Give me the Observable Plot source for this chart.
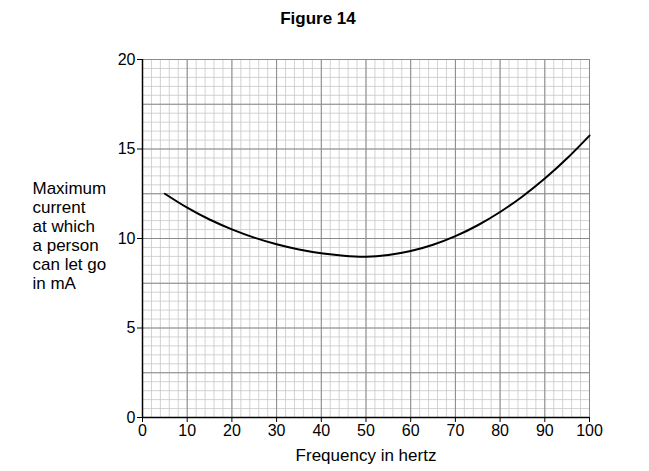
<!DOCTYPE html>
<html>
<head>
<meta charset="utf-8">
<script src="https://cdn.jsdelivr.net/npm/d3@7"></script>
<script src="https://cdn.jsdelivr.net/npm/@observablehq/plot@0.6"></script>
<style>
  html, body { margin: 0; padding: 0; background: #fff; }
  #chart svg { display: block; }
</style>
</head>
<body>
<div id="chart"></div>
<script>
const frequency = [5, 10, 15, 20, 25, 30, 35, 40, 45, 50, 55, 60, 65, 70, 75, 80, 85, 90, 95, 100];
const current   = [12.5, 11.72, 11.06, 10.51, 10.05, 9.68, 9.39, 9.18, 9.04, 8.98, 9.08, 9.30, 9.65, 10.13, 10.74, 11.48, 12.35, 13.35, 14.48, 15.75];
const xTicks = [0, 10, 20, 30, 40, 50, 60, 70, 80, 90, 100];
const yTicks = [0, 5, 10, 15, 20];
const title = "Figure 14";
const xLabel = "Frequency in hertz";
const yLabel = "Maximum\ncurrent\nat which\na person\ncan let go\nin mA";

const data = frequency.map((f, i) => ({f, c: current[i]}));
const xMinor = d3.range(0, 101, 2);
const yMinor = d3.range(0, 20.01, 0.5);
const xMajor = d3.range(0, 101, 10);
const yMajor = d3.range(0, 20.01, 2.5);

const font = "Liberation Sans, Arial, sans-serif";

const plot = Plot.plot({
  width: 649,
  height: 471,
  marginLeft: 142,
  marginRight: 60,
  marginTop: 59,
  marginBottom: 54,
  style: {fontFamily: font, fontSize: "16px", color: "#000", background: "#fff"},
  x: {domain: [0, 100], label: null},
  y: {domain: [0, 20], label: null},
  marks: [
    Plot.ruleX(xMinor, {stroke: "#c8c8c8", strokeWidth: 0.8}),
    Plot.ruleY(yMinor, {stroke: "#c8c8c8", strokeWidth: 0.8}),
    Plot.ruleX(xMajor, {stroke: "#8a8a8a", strokeWidth: 1}),
    Plot.ruleY(yMajor, {stroke: "#8a8a8a", strokeWidth: 1}),
    Plot.axisX({ticks: xTicks, tickSize: 5, tickPadding: 2, fontSize: 16, label: null}),
    Plot.axisY({ticks: yTicks, tickSize: 5, tickPadding: 2, fontSize: 16, label: null}),
    Plot.ruleX([0], {stroke: "#000", strokeWidth: 1.5}),
    Plot.ruleY([0], {stroke: "#000", strokeWidth: 1.5}),
    Plot.line(data, {x: "f", y: "c", stroke: "#000", strokeWidth: 2, curve: "natural"}),
    Plot.text([title], {frameAnchor: "top", dy: -48, dx: -48, fontSize: 17, fontWeight: "bold", text: d => d}),
    Plot.text([xLabel], {frameAnchor: "bottom", dy: 43, fontSize: 17, text: d => d}),
    Plot.text([yLabel], {frameAnchor: "left", textAnchor: "start", dx: -110, dy: -3.5, fontSize: 17, lineHeight: 1.12, text: d => d})
  ]
});
document.getElementById("chart").appendChild(plot);
</script>
</body>
</html>
